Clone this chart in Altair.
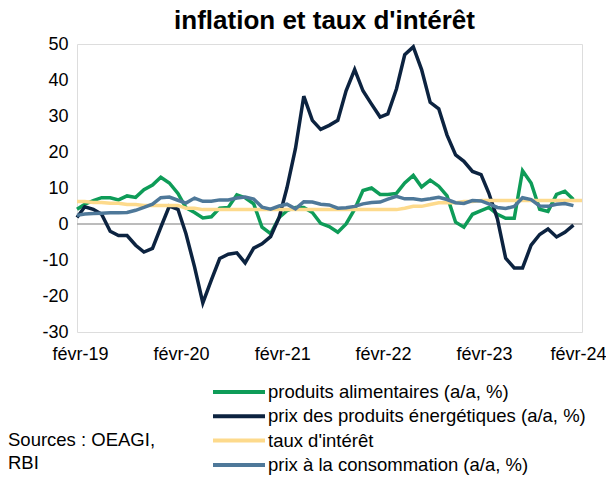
import altair as alt
import pandas as pd

# Monthly observations from févr-2019
food = [4.1, 5.5, 6.5, 7.3, 7.3, 6.7, 7.8, 7.4, 9.5, 10.8, 13.0, 11.4, 8.5, 4.5, 3.2, 1.7,
        2.0, 4.4, 4.6, 8.1, 7.3, 5.6, -0.9, -2.7, 1.8, 3.7, 4.6, 4.6, 3.2, 0.2, -0.7, -2.3,
        0.0, 4.1, 9.3, 10.0, 8.2, 8.2, 8.5, 11.4, 13.5, 10.3, 12.2, 10.5, 7.8, 0.5, -0.9, 2.7,
        3.7, 4.6, 2.7, 1.6, 1.6, 14.8, 11.4, 4.1, 3.5, 8.2, 9.1, 6.8]
energy = [1.8, 4.8, 4.1, 2.7, -2.0, -3.2, -3.2, -5.9, -7.8, -6.8, -0.9, 5.0, 4.1, -2.7, -11.9, -21.9,
          -15.5, -9.6, -8.4, -8.0, -10.8, -6.7, -5.5, -3.5, 1.8, 10.0, 21.0, 35.5, 28.8, 26.3, 27.4, 28.8,
          37.0, 42.9, 37.0, 33.3, 29.7, 30.6, 37.5, 47.0, 49.2, 42.9, 33.8, 32.0, 24.7, 19.2, 17.4, 14.6,
          13.7, 8.6, 1.5, -9.5, -12.2, -12.2, -5.9, -2.9, -1.4, -3.6, -2.3, -0.3]
rate = [6.25, 6.25, 6.0, 6.0, 5.75, 5.75, 5.4, 5.4, 5.15, 5.15, 5.15, 5.15, 5.15, 4.4, 4.4, 4.0,
        4.0, 4.0, 4.0, 4.0, 4.0, 4.0, 4.0, 4.0, 4.0, 4.0, 4.0, 4.0, 4.0, 4.0, 4.0, 4.0,
        4.0, 4.0, 4.0, 4.0, 4.0, 4.0, 4.0, 4.4, 4.9, 4.9, 5.4, 5.9, 5.9, 5.9, 6.25, 6.25,
        6.5, 6.5, 6.5, 6.5, 6.5, 6.5, 6.5, 6.5, 6.5, 6.5, 6.5, 6.5, 6.5]
cpi = [2.4, 2.8, 2.9, 3.0, 3.1, 3.1, 3.2, 3.8, 4.6, 5.5, 7.3, 7.5, 6.6, 5.8, 7.2, 6.3,
       6.3, 6.7, 6.7, 7.2, 7.5, 6.9, 4.7, 4.1, 5.0, 5.5, 4.2, 6.2, 6.1, 5.5, 5.3, 4.4,
       4.5, 4.9, 5.6, 6.0, 6.1, 6.9, 7.7, 7.0, 7.0, 6.7, 7.0, 7.4, 6.8, 5.9, 5.7, 6.5,
       6.4, 5.6, 4.6, 4.3, 4.9, 7.3, 6.8, 5.0, 4.9, 5.5, 5.7, 5.1]

series_names = ["produits alimentaires (a/a, %)",
                "prix des produits énergétiques (a/a, %)",
                "taux d'intérêt",
                "prix à la consommation (a/a, %)"]
series_colors = ["#0E9C58", "#0C2340", "#FDDA8C", "#4E7899"]
year_ticks = [2019, 2020, 2021, 2022, 2023, 2024]
y_ticks = [-30, -20, -10, 0, 10, 20, 30, 40, 50]
source_lines = ["Sources : OEAGI,", "RBI"]

all_dates = pd.date_range("2019-02-01", periods=61, freq="MS")
rows = []
for name, vals in zip(series_names, [food, energy, rate, cpi]):
    for i, v in enumerate(vals):
        rows.append({"date": all_dates[i].strftime("%Y-%m-%dT00:00:00"), "value": v,
                     "series": name, "order": series_names.index(name)})
df = pd.DataFrame(rows)

FONT = "Liberation Sans"
color_scale = alt.Scale(domain=series_names, range=series_colors)
x_scale = alt.Scale(domain=[alt.DateTime(year=2019, month=2, date=1),
                            alt.DateTime(year=2024, month=2, date=1)])
y_scale = alt.Scale(domain=[-30, 50], nice=False)
y_axis = alt.Axis(values=y_ticks, title=None, grid=False, format="d",
                  labelExpr="replace(format(datum.value, 'd'), '−', '-')",
                  ticks=False, domain=False, labelFontSize=18, labelPadding=9,
                  labelColor="#000000", labelFont=FONT,
                  labelOverlap=False, labelFlush=False, labelBound=False)

last_label = "year(datum.value) == 2024"
lines = alt.Chart(df).mark_line(strokeWidth=3.5).encode(
    x=alt.X("date:T", scale=x_scale,
            axis=alt.Axis(values=[alt.DateTime(year=y, month=2, date=1) for y in year_ticks],
                          labelExpr="'févr-' + timeFormat(datum.value, '%y')",
                          title=None, grid=False, ticks=False, domain=False,
                          labelFontSize=18, labelPadding=13, labelColor="#000000",
                          labelFont=FONT, labelOverlap=False,
                          labelFlush=False, labelBound=False,
                          labelAlign={"condition": {"test": last_label, "value": "right"},
                                      "value": "center"},
                          labelOffset={"condition": {"test": last_label, "value": 24},
                                       "value": 3})),
    y=alt.Y("value:Q", scale=y_scale, axis=y_axis),
    color=alt.Color("series:N", scale=color_scale, legend=None),
    order="order:Q",
    detail="series:N",
)

zero = alt.Chart(pd.DataFrame({"v": [0]})).mark_rule(color="#A6A6A6", strokeWidth=1.5).encode(
    y=alt.Y("v:Q", scale=y_scale, axis=y_axis)
)

# Manual legend (rows below the plot)
leg_df = pd.DataFrame({"series": series_names,
                       "ly": [348 + 24.3 * i for i in range(len(series_names))]})
leg_lines = alt.Chart(leg_df).mark_rule(strokeWidth=4).encode(
    x=alt.value(136), x2=alt.value(188),
    y=alt.Y("ly:Q", scale=None),
    color=alt.Color("series:N", scale=color_scale, legend=None),
)
leg_text = alt.Chart(leg_df).mark_text(
    align="left", baseline="middle", fontSize=18.5, font=FONT, color="#000000"
).encode(
    x=alt.value(191),
    y=alt.Y("ly:Q", scale=None),
    text="series:N",
)

src = alt.Chart(pd.DataFrame({"t": source_lines, "dy": [396, 419]})).mark_text(
    align="left", baseline="middle", fontSize=18.5, font=FONT, color="#000000"
).encode(
    x=alt.value(-69),
    y=alt.Y("dy:Q", scale=None),
    text="t:N",
)

chart = alt.layer(zero, lines, leg_lines, leg_text, src).properties(
    width=505, height=288,
    title=alt.TitleParams("inflation et taux d'intérêt", fontSize=26, font=FONT,
                          fontWeight="bold", color="#000000", anchor="middle", offset=1, dx=-5),
    autosize=alt.AutoSizeParams(type="none"),
    padding={"left": 69, "top": 36, "right": 24, "bottom": 144},
).configure_view(stroke="#A6A6A6", strokeWidth=1.5).configure(background="white")

chart.save("out.html", embed_options={"renderer": "svg", "actions": False})
